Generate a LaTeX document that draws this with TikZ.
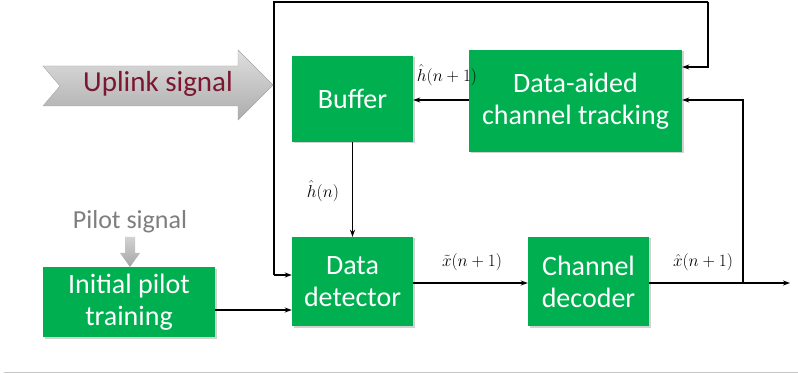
\documentclass[tikz,border=0pt]{standalone}
\usepackage{fontspec}
\setmainfont{Carlito}
\usetikzlibrary{arrows.meta,shadows}
\definecolor{boxgreen}{HTML}{00B050}
\definecolor{upred}{HTML}{7B1730}
\definecolor{pilotgray}{HTML}{7F7F7F}
\tikzset{
  block/.style={fill=boxgreen, draw=none, text=white, align=center,
    font=\fontsize{28}{32}\selectfont, inner sep=0pt,
    drop shadow={shadow xshift=1.5pt, shadow yshift=-1.5pt, fill=black!35}},
  link/.style={line width=1.2pt, -{Stealth[length=7pt,width=5pt]}},
  plain/.style={line width=1.2pt},
  sig/.style={font=\fontsize{17}{19}\selectfont, inner sep=0pt}
}
\begin{document}
\begin{tikzpicture}[x=1pt,y=-1pt]
\useasboundingbox (0,0) rectangle (798,374);
\fill[white] (0,0) rectangle (798,374);

% blocks
\node[block, minimum width=121pt, minimum height=86pt] (buf) at (352.5,99) {Buffer};
\node[block, minimum width=213pt, minimum height=102pt] (trk) at (575.5,101) {Data-aided\\channel tracking};
\node[block, minimum width=121pt, minimum height=89pt] (det) at (352.5,281.5) {Data\\detector};
\node[block, minimum width=121pt, minimum height=89pt] (dec) at (588.5,281.5) {Channel\\decoder};
\node[block, minimum width=172pt, minimum height=70pt] (ini) at (129,302) {Initial pilot\\training};

% helper points
\coordinate (tl) at (274,2);
\coordinate (tr) at (708,2);
\coordinate (dl) at (274,275);
\coordinate (fb) at (743,283);
\coordinate (out) at (790,283);

% connectors
\draw[link] (trk.west |- 0,100) -- (buf.east |- 0,100);
\draw[link] (buf.south) -- (det.north);
\draw[link] (det.east |- 0,283) -- (dec.west |- 0,283);
\draw[plain] (dec.east |- 0,283) -- (fb);
\draw[link] (fb) -- (out);
\draw[link] (fb) |- (trk.east |- 0,100);
\draw[link] (dl) -- (det.west |- dl);
\draw[plain] (dl) -- (tl) -- (tr);
\draw[link] (tr) |- (trk.east |- 0,67);
\draw[link] (ini.east |- 0,310) -- (det.west |- 0,310);

% signal labels
\node[sig] (l1) at (447,75) {$\hat{h}(n+1)$};
\node[sig] (l2) at (323,191) {$\hat{h}(n)$};
\node[sig] (l3) at (472,262) {$\tilde{x}(n+1)$};
\node[sig] (l4) at (703,262) {$\hat{x}(n+1)$};

% uplink signal block arrow
\shade[top color=gray!25, bottom color=gray!65, draw=gray!70, line width=0.4pt]
  (43,66) -- (238,66) -- (238,50) -- (273,85) -- (238,120) -- (238,106)
  -- (43,106) -- (60,86) -- cycle;
\node[text=upred, font=\fontsize{29}{32}\selectfont] (up) at (158,84) {Uplink signal};

% pilot signal
\node[text=pilotgray, font=\fontsize{26}{28}\selectfont] (pil) at (130,222) {Pilot signal};
\shade[top color=gray!35, bottom color=gray!70]
  (125,237) -- (135,237) -- (135,253) -- (140,253) -- (130,267) -- (120,253)
  -- (125,253) -- cycle;

% rule at the foot
\draw[gray!45, line width=1.2pt] (4,372.5) -- (798,372.5);
\end{tikzpicture}
\end{document}
